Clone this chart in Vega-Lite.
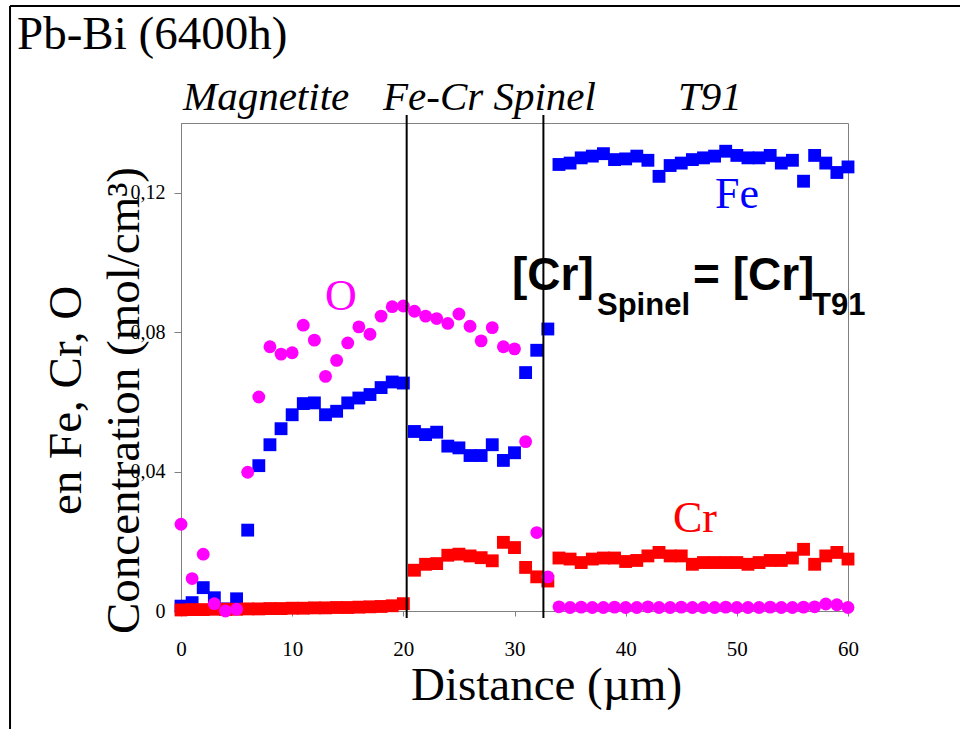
{
  "$schema": "https://vega.github.io/schema/vega-lite/v6.json",
  "width": 667,
  "height": 488,
  "autosize": {"type": "none"},
  "padding": {"left": 181, "top": 123, "right": 112, "bottom": 118},
  "background": "white",
  "config": {
    "view": {"stroke": "#808080", "strokeWidth": 1},
    "axis": {"grid": false, "domainColor": "#808080", "tickColor": "#808080", "labelColor": "black", "titleColor": "black", "labelFont": "Liberation Serif", "titleFont": "Liberation Serif", "titleFontWeight": "normal"}
  },
  "datasets": {
    "profile": [
      {"d":0,"el":"Fe","c":0.0014},{"d":1,"el":"Fe","c":0.0024},{"d":2,"el":"Fe","c":0.0067},{"d":3,"el":"Fe","c":0.0038},{"d":4,"el":"Fe","c":0.0006},{"d":5,"el":"Fe","c":0.0035},{"d":6,"el":"Fe","c":0.0232},{"d":7,"el":"Fe","c":0.0417},{"d":8,"el":"Fe","c":0.0477},{"d":9,"el":"Fe","c":0.0523},{"d":10,"el":"Fe","c":0.0563},{"d":11,"el":"Fe","c":0.0595},{"d":12,"el":"Fe","c":0.0597},{"d":13,"el":"Fe","c":0.0563},{"d":14,"el":"Fe","c":0.0573},{"d":15,"el":"Fe","c":0.0597},{"d":16,"el":"Fe","c":0.0611},{"d":17,"el":"Fe","c":0.0621},{"d":18,"el":"Fe","c":0.0641},{"d":19,"el":"Fe","c":0.0657},{"d":20,"el":"Fe","c":0.0654},{"d":21,"el":"Fe","c":0.0515},{"d":22,"el":"Fe","c":0.0506},{"d":23,"el":"Fe","c":0.0513},{"d":24,"el":"Fe","c":0.0473},{"d":25,"el":"Fe","c":0.0468},{"d":26,"el":"Fe","c":0.0446},{"d":27,"el":"Fe","c":0.0446},{"d":28,"el":"Fe","c":0.0477},{"d":29,"el":"Fe","c":0.0432},{"d":30,"el":"Fe","c":0.0454},{"d":31,"el":"Fe","c":0.0684},{"d":32,"el":"Fe","c":0.0748},{"d":33,"el":"Fe","c":0.0809},{"d":34,"el":"Fe","c":0.1281},{"d":35,"el":"Fe","c":0.1285},{"d":36,"el":"Fe","c":0.1300},{"d":37,"el":"Fe","c":0.1305},{"d":38,"el":"Fe","c":0.1312},{"d":39,"el":"Fe","c":0.1295},{"d":40,"el":"Fe","c":0.1297},{"d":41,"el":"Fe","c":0.1305},{"d":42,"el":"Fe","c":0.1293},{"d":43,"el":"Fe","c":0.1247},{"d":44,"el":"Fe","c":0.1278},{"d":45,"el":"Fe","c":0.1285},{"d":46,"el":"Fe","c":0.1295},{"d":47,"el":"Fe","c":0.1300},{"d":48,"el":"Fe","c":0.1305},{"d":49,"el":"Fe","c":0.1319},{"d":50,"el":"Fe","c":0.1307},{"d":51,"el":"Fe","c":0.1300},{"d":52,"el":"Fe","c":0.1300},{"d":53,"el":"Fe","c":0.1307},{"d":54,"el":"Fe","c":0.1285},{"d":55,"el":"Fe","c":0.1293},{"d":56,"el":"Fe","c":0.1233},{"d":57,"el":"Fe","c":0.1307},{"d":58,"el":"Fe","c":0.1285},{"d":59,"el":"Fe","c":0.1258},{"d":60,"el":"Fe","c":0.1274},
      {"d":0,"el":"Cr","c":0.0003},{"d":1,"el":"Cr","c":0.0004},{"d":2,"el":"Cr","c":0.0004},{"d":3,"el":"Cr","c":0.0005},{"d":4,"el":"Cr","c":0.0005},{"d":5,"el":"Cr","c":0.0005},{"d":6,"el":"Cr","c":0.0006},{"d":7,"el":"Cr","c":0.0006},{"d":8,"el":"Cr","c":0.0007},{"d":9,"el":"Cr","c":0.0007},{"d":10,"el":"Cr","c":0.0008},{"d":11,"el":"Cr","c":0.0008},{"d":12,"el":"Cr","c":0.0009},{"d":13,"el":"Cr","c":0.0009},{"d":14,"el":"Cr","c":0.0010},{"d":15,"el":"Cr","c":0.0010},{"d":16,"el":"Cr","c":0.0011},{"d":17,"el":"Cr","c":0.0012},{"d":18,"el":"Cr","c":0.0013},{"d":19,"el":"Cr","c":0.0015},{"d":20,"el":"Cr","c":0.0021},{"d":21,"el":"Cr","c":0.0117},{"d":22,"el":"Cr","c":0.0134},{"d":23,"el":"Cr","c":0.0136},{"d":24,"el":"Cr","c":0.0160},{"d":25,"el":"Cr","c":0.0163},{"d":26,"el":"Cr","c":0.0158},{"d":27,"el":"Cr","c":0.0153},{"d":28,"el":"Cr","c":0.0144},{"d":29,"el":"Cr","c":0.0197},{"d":30,"el":"Cr","c":0.0182},{"d":31,"el":"Cr","c":0.0125},{"d":32,"el":"Cr","c":0.0098},{"d":33,"el":"Cr","c":0.0086},{"d":34,"el":"Cr","c":0.0152},{"d":35,"el":"Cr","c":0.0149},{"d":36,"el":"Cr","c":0.0139},{"d":37,"el":"Cr","c":0.0149},{"d":38,"el":"Cr","c":0.0152},{"d":39,"el":"Cr","c":0.0152},{"d":40,"el":"Cr","c":0.0142},{"d":41,"el":"Cr","c":0.0145},{"d":42,"el":"Cr","c":0.0158},{"d":43,"el":"Cr","c":0.0168},{"d":44,"el":"Cr","c":0.0158},{"d":45,"el":"Cr","c":0.0158},{"d":46,"el":"Cr","c":0.0134},{"d":47,"el":"Cr","c":0.0139},{"d":48,"el":"Cr","c":0.0139},{"d":49,"el":"Cr","c":0.0139},{"d":50,"el":"Cr","c":0.0139},{"d":51,"el":"Cr","c":0.0134},{"d":52,"el":"Cr","c":0.0139},{"d":53,"el":"Cr","c":0.0145},{"d":54,"el":"Cr","c":0.0145},{"d":55,"el":"Cr","c":0.0152},{"d":56,"el":"Cr","c":0.0177},{"d":57,"el":"Cr","c":0.0134},{"d":58,"el":"Cr","c":0.0158},{"d":59,"el":"Cr","c":0.0168},{"d":60,"el":"Cr","c":0.0149},
      {"d":0,"el":"O","c":0.0249},{"d":1,"el":"O","c":0.0093},{"d":2,"el":"O","c":0.0163},{"d":3,"el":"O","c":0.0021},{"d":4,"el":"O","c":0.0000},{"d":5,"el":"O","c":0.0005},{"d":6,"el":"O","c":0.0398},{"d":7,"el":"O","c":0.0614},{"d":8,"el":"O","c":0.0758},{"d":9,"el":"O","c":0.0737},{"d":10,"el":"O","c":0.0741},{"d":11,"el":"O","c":0.0820},{"d":12,"el":"O","c":0.0777},{"d":13,"el":"O","c":0.0673},{"d":14,"el":"O","c":0.0719},{"d":15,"el":"O","c":0.0769},{"d":16,"el":"O","c":0.0815},{"d":17,"el":"O","c":0.0794},{"d":18,"el":"O","c":0.0846},{"d":19,"el":"O","c":0.0873},{"d":20,"el":"O","c":0.0875},{"d":21,"el":"O","c":0.0860},{"d":22,"el":"O","c":0.0846},{"d":23,"el":"O","c":0.0839},{"d":24,"el":"O","c":0.0825},{"d":25,"el":"O","c":0.0852},{"d":26,"el":"O","c":0.0817},{"d":27,"el":"O","c":0.0775},{"d":28,"el":"O","c":0.0813},{"d":29,"el":"O","c":0.0758},{"d":30,"el":"O","c":0.0752},{"d":31,"el":"O","c":0.0486},{"d":32,"el":"O","c":0.0225},{"d":33,"el":"O","c":0.0098},{"d":34,"el":"O","c":0.0012},{"d":35,"el":"O","c":0.0010},{"d":36,"el":"O","c":0.0011},{"d":37,"el":"O","c":0.0010},{"d":38,"el":"O","c":0.0010},{"d":39,"el":"O","c":0.0011},{"d":40,"el":"O","c":0.0010},{"d":41,"el":"O","c":0.0010},{"d":42,"el":"O","c":0.0012},{"d":43,"el":"O","c":0.0010},{"d":44,"el":"O","c":0.0010},{"d":45,"el":"O","c":0.0011},{"d":46,"el":"O","c":0.0010},{"d":47,"el":"O","c":0.0010},{"d":48,"el":"O","c":0.0010},{"d":49,"el":"O","c":0.0011},{"d":50,"el":"O","c":0.0010},{"d":51,"el":"O","c":0.0010},{"d":52,"el":"O","c":0.0010},{"d":53,"el":"O","c":0.0011},{"d":54,"el":"O","c":0.0010},{"d":55,"el":"O","c":0.0010},{"d":56,"el":"O","c":0.0011},{"d":57,"el":"O","c":0.0012},{"d":58,"el":"O","c":0.0020},{"d":59,"el":"O","c":0.0018},{"d":60,"el":"O","c":0.0010}
    ],
    "bounds": [{"d": 20.3}, {"d": 32.6}],
    "labels": [
      {"t": "Pb-Bi (6400h)", "d": -14.75, "c": 0.1612, "k": "head"},
      {"t": "Magnetite", "d": 0.18, "c": 0.1437, "k": "zone"},
      {"t": "Fe-Cr Spinel", "d": 18.17, "c": 0.1437, "k": "zone"},
      {"t": "T91", "d": 44.71, "c": 0.1437, "k": "zone"},
      {"t": "Fe", "d": 48.03, "c": 0.1156, "k": "Fe"},
      {"t": "O", "d": 12.95, "c": 0.0864, "k": "O"},
      {"t": "Cr", "d": 44.26, "c": 0.0227, "k": "Cr"},
      {"t": "[Cr]", "d": 29.77, "c": 0.0921, "k": "big"},
      {"t": "Spinel", "d": 37.42, "c": 0.0849, "k": "sub"},
      {"t": "= [Cr]", "d": 46.06, "c": 0.0921, "k": "big"},
      {"t": "T91", "d": 56.76, "c": 0.0849, "k": "sub"}
    ]
  },
  "layer": [
    {
      "data": {"name": "profile"},
      "mark": {"type": "point", "filled": true, "opacity": 1, "size": 165},
      "encoding": {
        "x": {
          "field": "d", "type": "quantitative",
          "scale": {"domain": [0, 60], "nice": false, "zero": false},
          "axis": {
            "values": [0, 10, 20, 30, 40, 50, 60],
            "title": "Distance (µm)",
            "titleFontSize": 47,
            "titleX": 365,
            "titleY": 88,
            "titleAlign": "center",
            "titleBaseline": "alphabetic",
            "labelFontSize": 21,
            "labelPadding": 22,
            "tickSize": 5,
            "labelFlush": false
          }
        },
        "y": {
          "field": "c", "type": "quantitative",
          "scale": {"domain": [0, 0.14], "nice": false},
          "axis": {
            "values": [0, 0.04, 0.08, 0.12],
            "labelExpr": "datum.value == 0 ? '0' : replace(format(datum.value, '.2f'), '.', ',')",
            "title": ["en Fe, Cr, O", "Concentration (mol/cm³)"],
            "titleFontSize": 47,
            "titleLineHeight": 58,
            "titleAngle": -90,
            "titleX": -101,
            "titleY": 277,
            "titleAlign": "center",
            "titleBaseline": "alphabetic",
            "labelFontSize": 20,
            "labelPadding": 9,
            "tickSize": 7,
            "labelFlush": false
          }
        },
        "color": {"field": "el", "type": "nominal", "scale": {"domain": ["Fe", "Cr", "O"], "range": ["#0000FF", "#FF0000", "#FF00FF"]}, "legend": null},
        "shape": {"field": "el", "type": "nominal", "scale": {"domain": ["Fe", "Cr", "O"], "range": ["square", "square", "circle"]}, "legend": null}
      }
    },
    {
      "data": {"name": "bounds"},
      "mark": {"type": "rule", "color": "black", "strokeWidth": 2},
      "encoding": {
        "x": {"field": "d", "type": "quantitative"},
        "y": {"datum": -0.002},
        "y2": {"datum": 0.1423}
      }
    },
    {
      "data": {"name": "labels"},
      "transform": [{"filter": "datum.k == 'head'"}],
      "mark": {"type": "text", "align": "left", "baseline": "alphabetic", "font": "Liberation Serif", "fontSize": 47, "color": "black"},
      "encoding": {"x": {"field": "d", "type": "quantitative"}, "y": {"field": "c", "type": "quantitative"}, "text": {"field": "t"}}
    },
    {
      "data": {"name": "labels"},
      "transform": [{"filter": "datum.k == 'zone'"}],
      "mark": {"type": "text", "align": "left", "baseline": "alphabetic", "font": "Liberation Serif", "fontStyle": "italic", "fontSize": 41, "color": "black"},
      "encoding": {"x": {"field": "d", "type": "quantitative"}, "y": {"field": "c", "type": "quantitative"}, "text": {"field": "t"}}
    },
    {
      "data": {"name": "labels"},
      "transform": [{"filter": "datum.k == 'Fe' || datum.k == 'O' || datum.k == 'Cr'"}],
      "mark": {"type": "text", "align": "left", "baseline": "alphabetic", "font": "Liberation Serif", "fontSize": 44},
      "encoding": {
        "x": {"field": "d", "type": "quantitative"},
        "y": {"field": "c", "type": "quantitative"},
        "text": {"field": "t"},
        "color": {"field": "k", "type": "nominal", "scale": {"domain": ["Fe", "Cr", "O", "big", "sub", "zone", "head"], "range": ["#000099", "#FF0000", "#FF33CC", "#000000", "#000000", "#000000", "#000000"]}, "legend": null}
      }
    },
    {
      "data": {"name": "labels"},
      "transform": [{"filter": "datum.k == 'big'"}],
      "mark": {"type": "text", "align": "left", "baseline": "alphabetic", "font": "Liberation Sans", "fontWeight": "bold", "fontSize": 46, "color": "black"},
      "encoding": {"x": {"field": "d", "type": "quantitative"}, "y": {"field": "c", "type": "quantitative"}, "text": {"field": "t"}}
    },
    {
      "data": {"name": "labels"},
      "transform": [{"filter": "datum.k == 'sub'"}],
      "mark": {"type": "text", "align": "left", "baseline": "alphabetic", "font": "Liberation Sans", "fontWeight": "bold", "fontSize": 31, "color": "black"},
      "encoding": {"x": {"field": "d", "type": "quantitative"}, "y": {"field": "c", "type": "quantitative"}, "text": {"field": "t"}}
    },
    {
      "data": {"values": [{}]},
      "mark": {"type": "rule", "color": "black", "strokeWidth": 2},
      "encoding": {"x": {"datum": -15.38}, "y": {"datum": -0.034}, "y2": {"datum": 0.1736}}
    },
    {
      "data": {"values": [{}]},
      "mark": {"type": "rule", "color": "black", "strokeWidth": 2},
      "encoding": {"x": {"datum": -15.38}, "x2": {"datum": 70.1}, "y": {"datum": 0.1736}}
    }
  ]
}
